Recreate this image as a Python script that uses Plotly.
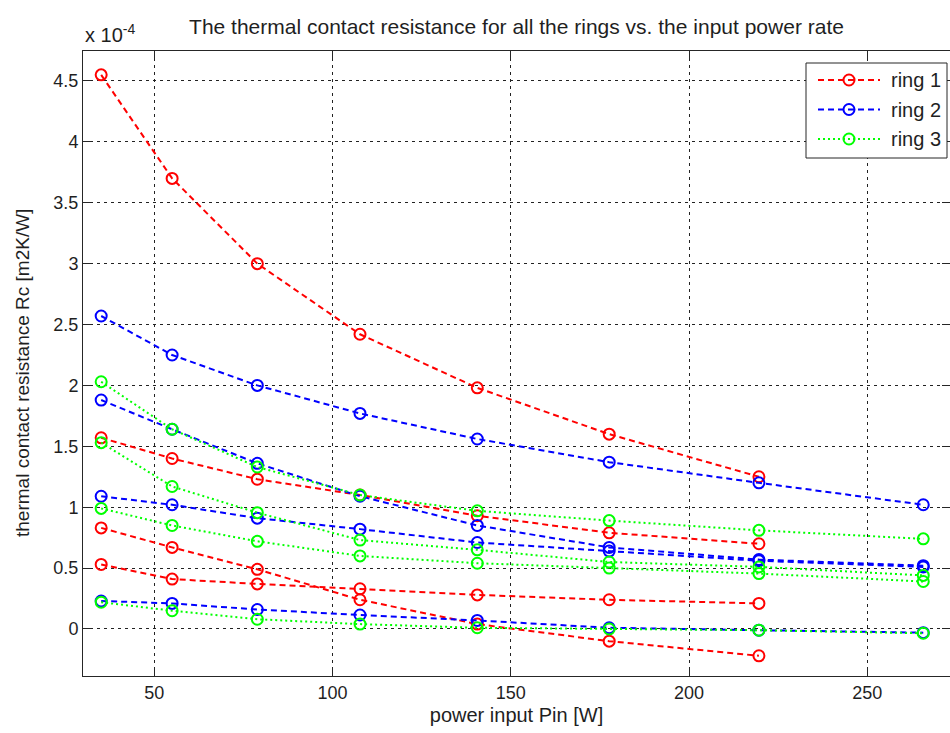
import plotly.graph_objects as go

# Input power levels [W]
power = [35.1, 55.0, 78.9, 107.7, 140.6, 177.6, 219.6, 265.7]

# Thermal contact resistance, in units of 1e-4 m2K/W
ring1 = [
    [4.55, 3.70, 3.00, 2.42, 1.98, 1.60, 1.25],
    [1.57, 1.40, 1.23, 1.10, 0.93, 0.79, 0.70],
    [0.83, 0.67, 0.49, 0.24, 0.04, -0.10, -0.22],
    [0.53, 0.41, 0.37, 0.33, 0.28, 0.24, 0.21],
]
ring2 = [
    [2.57, 2.25, 2.00, 1.77, 1.56, 1.37, 1.20, 1.02],
    [1.88, 1.64, 1.36, 1.09, 0.85, 0.67, 0.57, 0.52],
    [1.09, 1.02, 0.91, 0.82, 0.71, 0.64, 0.56, 0.51],
    [0.23, 0.21, 0.16, 0.115, 0.07, 0.01, -0.01, -0.03],
]
ring3 = [
    [2.03, 1.64, 1.33, 1.10, 0.97, 0.89, 0.81, 0.74],
    [1.53, 1.17, 0.955, 0.73, 0.65, 0.55, 0.51, 0.44],
    [0.99, 0.85, 0.72, 0.60, 0.54, 0.50, 0.455, 0.39],
    [0.22, 0.15, 0.08, 0.04, 0.01, 0.00, -0.01, -0.035],
]

y_ticks = [0, 0.5, 1, 1.5, 2, 2.5, 3, 3.5, 4, 4.5]
y_tick_text = ["0", "0.5", "1", "1.5", "2", "2.5", "3", "3.5", "4", "4.5"]
x_ticks = [50, 100, 150, 200, 250]

rings = [
    ("ring 1", ring1, "#ff0000", "6px,4px"),
    ("ring 2", ring2, "#0000ff", "6px,4px"),
    ("ring 3", ring3, "#00ff00", "2px,3px"),
]

FONT = "Liberation Sans, Arial, sans-serif"
TXT = "#1f1f1f"
EDGE = "#262626"

W, H = 950, 733
M_L, M_R, M_T, M_B = 83, 0, 51, 57
PW, PH = W - M_L - M_R, H - M_T - M_B


def px_x(p):
    return (p - M_L) / PW


def px_y(p):
    return (H - M_B - p) / PH


fig = go.Figure()
for name, series, color, dash in rings:
    for i, vals in enumerate(series):
        fig.add_trace(go.Scatter(
            x=power[:len(vals)],
            y=vals,
            mode="lines+markers",
            name=name,
            showlegend=False,
            line=dict(color=color, width=2, dash=dash),
            marker=dict(symbol="circle-open", size=11, color=color,
                        line=dict(width=2, color=color)),
        ))

# Boxed legend in the upper-right corner of the axes
shapes = [dict(
    type="rect", xref="paper", yref="paper",
    x0=px_x(806), x1=px_x(947), y0=px_y(158), y1=px_y(63),
    line=dict(color=EDGE, width=1), fillcolor="white", layer="above",
)]
annotations = []
for k, (name, series, color, dash) in enumerate(rings):
    row = 80 + k * 29.5
    shapes.append(dict(
        type="line", xref="paper", yref="paper",
        x0=px_x(818), x1=px_x(880), y0=px_y(row), y1=px_y(row),
        line=dict(color=color, width=2, dash=dash), layer="above",
    ))
    shapes.append(dict(
        type="circle", xref="paper", yref="paper",
        xsizemode="pixel", ysizemode="pixel",
        xanchor=px_x(849), yanchor=px_y(row),
        x0=-5.5, x1=5.5, y0=-5.5, y1=5.5,
        line=dict(color=color, width=2), fillcolor="rgba(0,0,0,0)",
        layer="above",
    ))
    annotations.append(dict(
        text=name, xref="paper", yref="paper",
        x=px_x(889), y=px_y(row), xanchor="left", yanchor="middle",
        showarrow=False, font=dict(family=FONT, size=20, color=TXT),
    ))

# Exponent of the y-axis scale
annotations.append(dict(
    text="x 10<sup>-4</sup>", xref="paper", yref="paper",
    x=0, y=1, xanchor="left", yanchor="bottom", yshift=3,
    showarrow=False, font=dict(family=FONT, size=20, color=TXT),
))

# Vertical y-axis label, set close to the left edge of the figure
annotations.append(dict(
    text="thermal contact resistance Rc [m2K/W]", xref="paper", yref="paper",
    x=px_x(22), y=px_y(373), xanchor="center", yanchor="middle",
    textangle=-90, showarrow=False,
    font=dict(family=FONT, size=19, color=TXT),
))

axis_common = dict(
    showline=True, linecolor=EDGE, linewidth=1, mirror="ticks",
    ticks="inside", ticklen=8, tickcolor=EDGE,
    showgrid=True, gridcolor="#222222", gridwidth=1, griddash="3px,4px",
    zeroline=False,
    tickfont=dict(family=FONT, size=18, color=TXT),
)

fig.update_layout(
    width=W, height=H,
    margin=dict(l=M_L, r=M_R, t=M_T, b=M_B),
    paper_bgcolor="white", plot_bgcolor="white",
    font=dict(family=FONT, size=18, color=TXT),
    showlegend=False,
    title=dict(
        text="The thermal contact resistance for all the rings vs. the input power rate",
        x=0.5, xref="paper", xanchor="center",
        y=1 - 27 / H, yref="container", yanchor="middle",
        font=dict(family=FONT, size=21, color=TXT),
    ),
    xaxis=dict(
        range=[30, 273.2], tickvals=x_ticks,
        title=dict(text="power input Pin [W]", standoff=6,
                   font=dict(family=FONT, size=20, color=TXT)),
        **axis_common,
    ),
    yaxis=dict(
        range=[-0.386, 4.746], tickvals=y_ticks, ticktext=y_tick_text,
        **axis_common,
    ),
    shapes=shapes,
    annotations=annotations,
)

fig.write_html("out.html")
